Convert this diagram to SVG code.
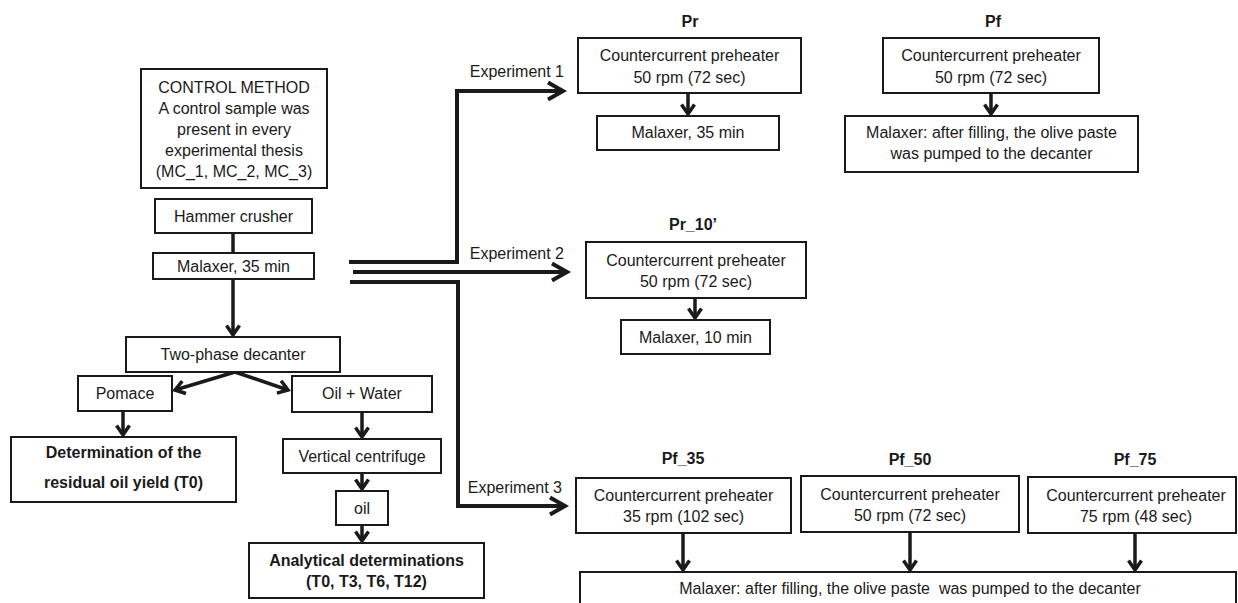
<svg xmlns="http://www.w3.org/2000/svg" width="1238" height="603" viewBox="0 0 1238 603">
<style>
  .box { fill: #fff; stroke: #1a1a1a; stroke-width: 2; }
  text { font-family: "Liberation Sans", Arial, sans-serif; font-size: 16px; fill: #1a1a1a; text-anchor: middle; }
  .b { font-weight: bold; }
  .l { text-anchor: end; }
  .c { fill: none; stroke: #1a1a1a; stroke-width: 3.5; marker-end: url(#ah); }
  .n { fill: none; stroke: #1a1a1a; stroke-width: 3.5; }
  .e { fill: none; stroke: #1a1a1a; stroke-width: 4; stroke-linejoin: miter; marker-end: url(#ahL); }
  .e0 { fill: none; stroke: #1a1a1a; stroke-width: 4; stroke-linejoin: miter; }
</style>
<defs>
  <marker id="ah" markerUnits="userSpaceOnUse" viewBox="0 0 16 16" markerWidth="16" markerHeight="16" refX="12" refY="8" orient="auto" overflow="visible">
    <path d="M2.5,1.5 L12,8 L2.5,14.5" fill="none" stroke="#1a1a1a" stroke-width="3.5"/>
  </marker>
  <marker id="ahL" markerUnits="userSpaceOnUse" viewBox="0 0 22 20" markerWidth="22" markerHeight="20" refX="17" refY="10" orient="auto" overflow="visible">
    <path d="M2,1.5 L17,10 L2,18.5" fill="none" stroke="#1a1a1a" stroke-width="4"/>
  </marker>
</defs>
<rect width="1238" height="603" fill="#fff"/>

<g id="connectors">
  <line class="n" x1="233" y1="233" x2="233" y2="253"/>
  <line class="c" x1="233" y1="279" x2="233" y2="335"/>
  <line class="c" x1="235" y1="372" x2="175" y2="390"/>
  <line class="c" x1="235" y1="372" x2="288" y2="390"/>
  <line class="c" x1="123" y1="411" x2="123" y2="435"/>
  <line class="c" x1="362" y1="412" x2="362" y2="437"/>
  <line class="c" x1="362" y1="473" x2="362" y2="489"/>
  <line class="c" x1="362" y1="525" x2="362" y2="541"/>
  <polyline class="e" points="349,262 457,262 457,91 563,91"/>
  <line class="e" x1="353" y1="272" x2="567" y2="272"/>
  <polyline class="e" points="350,282 458,282 458,506 565,506"/>
  <line class="c" x1="688" y1="93" x2="688" y2="114"/>
  <line class="c" x1="991" y1="93" x2="991" y2="114"/>
  <line class="c" x1="695" y1="298" x2="695" y2="318"/>
  <line class="c" x1="683" y1="533" x2="683" y2="570"/>
  <line class="c" x1="910" y1="532" x2="910" y2="570"/>
  <line class="c" x1="1135" y1="533" x2="1135" y2="570"/>
  <text class="l" x="564" y="77">Experiment 1</text>
  <text class="l" x="564" y="259">Experiment 2</text>
  <text class="l" x="562" y="493">Experiment 3</text>
</g>

<g id="control">
  <rect class="box" x="141" y="69" width="186" height="119"/>
  <text x="234" y="93">CONTROL METHOD</text>
  <text x="234" y="114">A control sample was</text>
  <text x="234" y="135">present in every</text>
  <text x="234" y="156">experimental thesis</text>
  <text x="234" y="177">(MC_1, MC_2, MC_3)</text>
</g>
<g id="hammer">
  <rect class="box" x="155" y="199" width="157" height="34"/>
  <text x="233.5" y="222">Hammer crusher</text>
</g>
<g id="malaxer-ctrl">
  <rect class="box" x="153" y="253" width="161" height="26"/>
  <text x="233.5" y="271.5">Malaxer, 35 min</text>
</g>
<g id="decanter">
  <rect class="box" x="126" y="337" width="214" height="35"/>
  <text x="233" y="360">Two-phase decanter</text>
</g>
<g id="pomace">
  <rect class="box" x="78" y="376" width="94" height="35"/>
  <text x="125" y="399">Pomace</text>
</g>
<g id="residual">
  <rect class="box" x="11" y="437" width="225" height="65"/>
  <text class="b" x="123.5" y="458">Determination of the</text>
  <text class="b" x="123.5" y="488">residual oil yield (T0)</text>
</g>
<g id="oilwater">
  <rect class="box" x="292" y="376" width="140" height="36"/>
  <text x="362" y="399">Oil + Water</text>
</g>
<g id="centrifuge">
  <rect class="box" x="283" y="439" width="158" height="34"/>
  <text x="362" y="462">Vertical centrifuge</text>
</g>
<g id="oil">
  <rect class="box" x="336" y="491" width="52" height="34"/>
  <text x="362" y="514">oil</text>
</g>
<g id="analytical">
  <rect class="box" x="249" y="543" width="235" height="55"/>
  <text class="b" x="366.5" y="566">Analytical determinations</text>
  <text class="b" x="366.5" y="587">(T0, T3, T6, T12)</text>
</g>

<g id="pr">
  <text class="b" x="690" y="27">Pr</text>
  <rect class="box" x="578" y="38" width="223" height="55"/>
  <text x="689.5" y="61">Countercurrent preheater</text>
  <text x="689.5" y="83">50 rpm (72 sec)</text>
</g>
<g id="pr-malaxer">
  <rect class="box" x="597" y="116" width="182" height="34"/>
  <text x="688" y="138">Malaxer, 35 min</text>
</g>
<g id="pf">
  <text class="b" x="993" y="27">Pf</text>
  <rect class="box" x="883" y="38" width="216" height="55"/>
  <text x="991" y="61">Countercurrent preheater</text>
  <text x="991" y="83">50 rpm (72 sec)</text>
</g>
<g id="pf-malaxer">
  <rect class="box" x="845" y="116" width="293" height="56"/>
  <text x="991.5" y="138">Malaxer: after filling, the olive paste</text>
  <text x="991.5" y="159">was pumped to the decanter</text>
</g>
<g id="pr10">
  <text class="b" x="693" y="230">Pr_10’</text>
  <rect class="box" x="586" y="242" width="220" height="56"/>
  <text x="696" y="265.5">Countercurrent preheater</text>
  <text x="696" y="286.5">50 rpm (72 sec)</text>
</g>
<g id="pr10-malaxer">
  <rect class="box" x="621" y="320" width="149" height="34"/>
  <text x="695.5" y="343">Malaxer, 10 min</text>
</g>
<g id="pf35">
  <text class="b" x="683" y="464">Pf_35</text>
  <rect class="box" x="576" y="478" width="215" height="55"/>
  <text x="683.5" y="501">Countercurrent preheater</text>
  <text x="683.5" y="522">35 rpm (102 sec)</text>
</g>
<g id="pf50">
  <text class="b" x="910" y="465">Pf_50</text>
  <rect class="box" x="801" y="476" width="218" height="56"/>
  <text x="910" y="500">Countercurrent preheater</text>
  <text x="910" y="521">50 rpm (72 sec)</text>
</g>
<g id="pf75">
  <text class="b" x="1135" y="465">Pf_75</text>
  <rect class="box" x="1028" y="477" width="208" height="56"/>
  <text x="1136" y="501">Countercurrent preheater</text>
  <text x="1136" y="522">75 rpm (48 sec)</text>
</g>
<g id="pf-series-malaxer">
  <rect class="box" x="580" y="572" width="656" height="50"/>
  <text x="910" y="594" xml:space="preserve">Malaxer: after filling, the olive paste  was pumped to the decanter</text>
</g>
</svg>
